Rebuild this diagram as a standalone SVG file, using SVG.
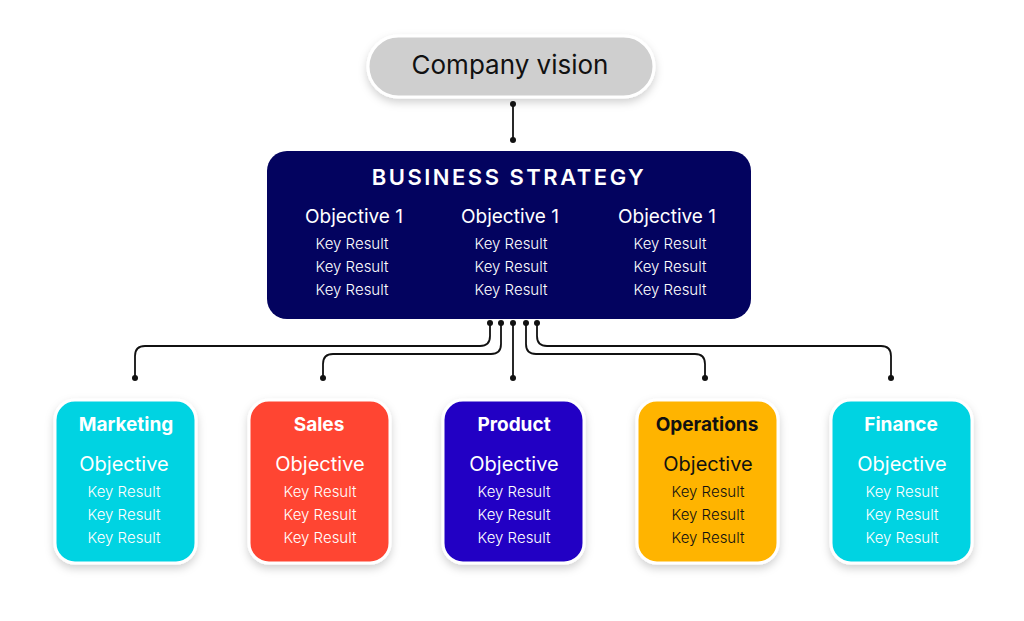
<svg xmlns="http://www.w3.org/2000/svg" width="1024" height="621" viewBox="0 0 1024 621">
<defs>
<filter id="sh" x="-20%" y="-20%" width="140%" height="150%">
<feDropShadow dx="0" dy="4" stdDeviation="4" flood-color="#000" flood-opacity="0.18"/>
</filter>
<marker id="dot" viewBox="0 0 10 10" refX="5" refY="5" markerWidth="6" markerHeight="6" markerUnits="userSpaceOnUse">
<circle cx="5" cy="5" r="5" fill="#111"/>
</marker>
</defs>
<style>
text{font-family:"Inter","Open Sans","Liberation Sans",sans-serif;text-anchor:middle}
.conn{fill:none;stroke:#111;stroke-width:1.8;marker-start:url(#dot);marker-end:url(#dot)}
.dept{stroke:#fff;stroke-width:3;filter:url(#sh)}
.t{font-size:19px;font-weight:700}
.o{font-size:20px;font-weight:400}
.k{font-size:15px;font-weight:300}
.w{fill:#fff}
.b{fill:#111}
</style>
<rect width="1024" height="621" fill="#fff"/>
<g id="vision">
<rect x="368" y="36" width="286" height="61" rx="30.5" fill="#cfcfcf" stroke="#fff" stroke-width="3" filter="url(#sh)"/>
<text x="510" y="74" font-size="26" fill="#111">Company vision</text>
</g>
<g id="strategy">
<rect x="267" y="151" width="484" height="168" rx="20" fill="#03035f"/>
<text x="509" y="185" font-size="22" font-weight="600" letter-spacing="2.5" class="w">BUSINESS STRATEGY</text>
<g class="w">
<text x="354" y="223" font-size="19">Objective 1</text>
<text x="510" y="223" font-size="19">Objective 1</text>
<text x="667" y="223" font-size="19">Objective 1</text>
<text class="k" x="352" y="249">Key Result</text>
<text class="k" x="352" y="272">Key Result</text>
<text class="k" x="352" y="295">Key Result</text>
<text class="k" x="511" y="249">Key Result</text>
<text class="k" x="511" y="272">Key Result</text>
<text class="k" x="511" y="295">Key Result</text>
<text class="k" x="670" y="249">Key Result</text>
<text class="k" x="670" y="272">Key Result</text>
<text class="k" x="670" y="295">Key Result</text>
</g>
</g>
<g id="connectors">
<path class="conn" d="M513 104 V140"/>
<path class="conn" d="M490 323 V336 Q490 346 480 346 H145 Q135 346 135 356 V378"/>
<path class="conn" d="M501 323 V344 Q501 354 491 354 H333 Q323 354 323 364 V378"/>
<path class="conn" d="M513 323 V378"/>
<path class="conn" d="M526 323 V344 Q526 354 536 354 H695 Q705 354 705 364 V378"/>
<path class="conn" d="M537 323 V336 Q537 346 547 346 H881 Q891 346 891 356 V378"/>
</g>
<g id="marketing">
<rect class="dept" x="55" y="400" width="141" height="163" rx="20" fill="#00d3e2"/>
<g class="w"><text class="t" x="126" y="431">Marketing</text><text class="o" x="124" y="471">Objective</text><text class="k" x="124" y="497">Key Result</text><text class="k" x="124" y="520">Key Result</text><text class="k" x="124" y="543">Key Result</text></g>
</g>
<g id="sales">
<rect class="dept" x="249" y="400" width="141" height="163" rx="20" fill="#ff4433"/>
<g class="w"><text class="t" x="319" y="431">Sales</text><text class="o" x="320" y="471">Objective</text><text class="k" x="320" y="497">Key Result</text><text class="k" x="320" y="520">Key Result</text><text class="k" x="320" y="543">Key Result</text></g>
</g>
<g id="product">
<rect class="dept" x="443" y="400" width="141" height="163" rx="20" fill="#2000c4"/>
<g class="w"><text class="t" x="514" y="431">Product</text><text class="o" x="514" y="471">Objective</text><text class="k" x="514" y="497">Key Result</text><text class="k" x="514" y="520">Key Result</text><text class="k" x="514" y="543">Key Result</text></g>
</g>
<g id="operations">
<rect class="dept" x="637" y="400" width="141" height="163" rx="20" fill="#ffb400"/>
<g class="b"><text class="t" x="707" y="431">Operations</text><text class="o" x="708" y="471">Objective</text><text class="k" x="708" y="497">Key Result</text><text class="k" x="708" y="520">Key Result</text><text class="k" x="708" y="543">Key Result</text></g>
</g>
<g id="finance">
<rect class="dept" x="831" y="400" width="141" height="163" rx="20" fill="#00d3e2"/>
<g class="w"><text class="t" x="901" y="431">Finance</text><text class="o" x="902" y="471">Objective</text><text class="k" x="902" y="497">Key Result</text><text class="k" x="902" y="520">Key Result</text><text class="k" x="902" y="543">Key Result</text></g>
</g>
</svg>
